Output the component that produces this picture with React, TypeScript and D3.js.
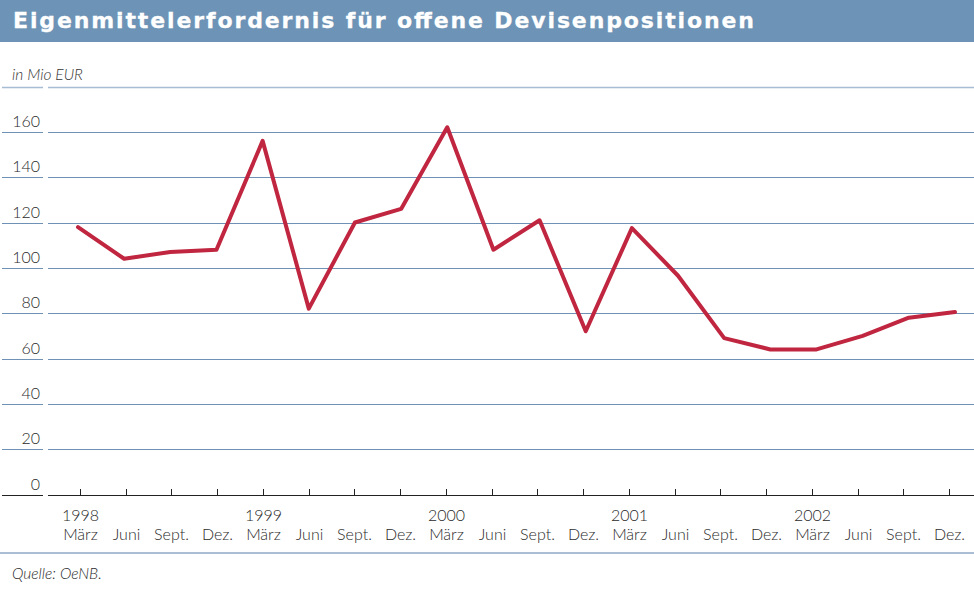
import React from 'react'
import * as d3 from 'd3'

// quarters, März 1998 .. Dez. 2002
const periods = [
  '1998-03', '1998-06', '1998-09', '1998-12',
  '1999-03', '1999-06', '1999-09', '1999-12',
  '2000-03', '2000-06', '2000-09', '2000-12',
  '2001-03', '2001-06', '2001-09', '2001-12',
  '2002-03', '2002-06', '2002-09', '2002-12',
]
const monthLabels = ['März', 'Juni', 'Sept.', 'Dez.']
const yearLabels = ['1998', '1999', '2000', '2001', '2002']
// Eigenmittelerfordernis in Mio EUR
const values = [
  118, 104, 107, 108,
  156, 82, 120, 126,
  162, 108, 121, 72,
  117.5, 96.5, 69, 64,
  64, 70, 78, 80.5,
]
const yTicks = [0, 20, 40, 60, 80, 100, 120, 140, 160, 180]

const W = 974
const H = 591
const labelFont = 'Lato, "Open Sans", sans-serif'

const App = () => {
  const y = d3.scaleLinear().domain([0, 180]).range([494.5, 86.5])
  const xTick = d3.scalePoint().domain(periods).range([80, 949])
  const xLine = d3.scalePoint().domain(periods).range([78, 955])

  const line = d3.line<number>()
    .x((d, i) => xLine(periods[i]) as number)
    .y(d => y(d))

  return (
    <svg width={W} height={H} style={{ position: 'absolute', left: 0, top: 0, background: '#fff' }}
      fontFamily={labelFont}>
      {/* header */}
      <rect x={0} y={0} width={W} height={42} fill="#6d93b6" />
      <text x={13} y={27.5} fill="#fff" stroke="#fff" strokeWidth={0.3} fontFamily='"DejaVu Sans", sans-serif'
        fontWeight="bold" fontSize={22} textLength={741} lengthAdjust="spacing">
        Eigenmittelerfordernis für offene Devisenpositionen
      </text>

      <text x={12} y={80} fontSize={15.5} fontStyle="italic" fontWeight={300} fill="#333">in Mio EUR</text>

      {/* grid */}
      {yTicks.map(t => {
        const yy = Math.round(y(t)) + 0.5
        const col = t === 0 ? '#222' : t === 180 ? '#a6bdd3' : '#6f91b5'
        const sw = t === 180 ? 1.6 : 1
        return (
          <g key={t}>
            <line x1={2} x2={43} y1={yy} y2={yy} stroke={col} strokeWidth={sw} />
            <line x1={48} x2={W} y1={yy} y2={yy} stroke={col} strokeWidth={sw} />
            {t < 180 && (
              <text x={40} y={yy - 6} textAnchor="end" fontSize={16} fontWeight={300} fill="#2a2a2a">{t}</text>
            )}
          </g>
        )
      })}

      {/* x ticks */}
      {periods.map((p, i) => {
        const xx = Math.round(xTick(p) as number) + 0.5
        return (
          <g key={p}>
            <line x1={xx} x2={xx} y1={489} y2={495} stroke="#222" strokeWidth={1} />
            {i % 4 === 0 && (
              <text x={xx} y={521} textAnchor="middle" fontSize={16} fontWeight={300} fill="#2a2a2a">{yearLabels[i / 4]}</text>
            )}
            <text x={xx} y={540} textAnchor="middle" fontSize={16} fontWeight={300} fill="#2a2a2a">{monthLabels[i % 4]}</text>
          </g>
        )
      })}

      {/* series */}
      <path d={line(values) || ''} fill="none" stroke="#c0263f" strokeWidth={4}
        strokeLinejoin="round" strokeLinecap="round" />

      {/* footer */}
      <line x1={0} x2={W} y1={553} y2={553} stroke="#8fa9c6" strokeWidth={1.5} />
      <text x={12} y={579} fontSize={15.5} fontStyle="italic" fontWeight={300} fill="#2a2a2a">Quelle: OeNB.</text>
    </svg>
  )
}

export default App
